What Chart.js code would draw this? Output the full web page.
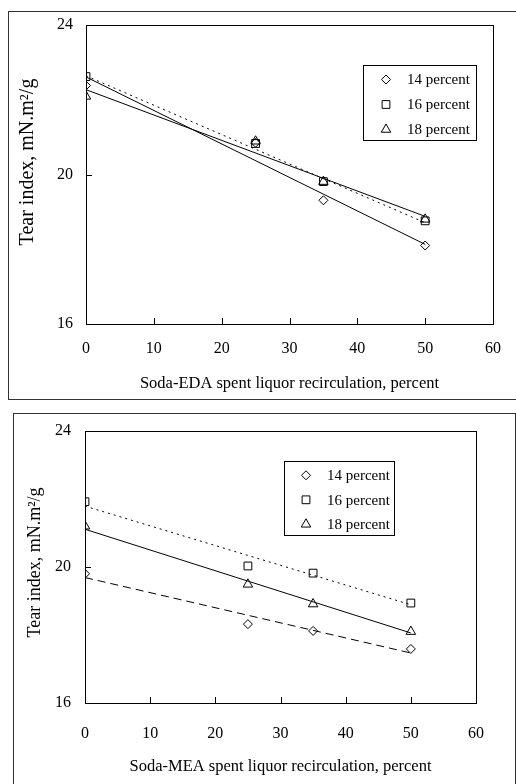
<!DOCTYPE html>
<html>
<head>
<meta charset="utf-8">
<script src="https://cdn.jsdelivr.net/npm/chart.js@4.4.0/dist/chart.umd.min.js"></script>
<style>
  html, body { margin: 0; padding: 0; background: #fff; overflow: hidden; }
  .frame { position: absolute; box-sizing: border-box; border: 1px solid #333; }
  canvas { position: absolute; left: 0; }
</style>
</head>
<body>
<div class="frame" style="left:8px;top:11px;width:530px;height:389px"></div>
<div class="frame" style="left:13px;top:413px;width:503px;height:420px"></div>
<canvas id="edaChart" width="516" height="400" style="top:0"></canvas>
<canvas id="meaChart" width="516" height="384" style="top:400px"></canvas>
<script>
// recirculation levels (x), tear index values
const recirc = [0, 25, 35, 50];
const fitX = [0, 50];

// Soda-EDA
const edaTear14 = [22.38, 20.85, 19.31, 18.10];
const edaTear16 = [22.62, 20.83, 19.81, 18.76];
const edaTear18 = [22.09, 20.89, 19.81, 18.80];
const edaFit14 = [22.61, 18.13];
const edaFit16 = [22.64, 18.71];
const edaFit18 = [22.27, 18.88];

// Soda-MEA
const meaTear14 = [19.80, 18.32, 18.12, 17.59];
const meaTear16 = [21.92, 20.03, 19.82, 18.94];
const meaTear18 = [21.20, 19.49, 18.91, 18.10];
const meaFit14 = [19.69, 17.47];
const meaFit16 = [21.79, 18.89];
const meaFit18 = [21.11, 18.06];

const seriesLabels = ["14 percent", "16 percent", "18 percent"];
const xTicks = [0, 10, 20, 30, 40, 50, 60];
const yTicks = [16, 20, 24];

const serif = "'Liberation Serif', 'Times New Roman', serif";

const pts = (xs, ys) => xs.map((x, i) => ({ x: x, y: ys[i] }));

const markers = [
  { pointStyle: "rectRot", radius: 4.5 },
  { pointStyle: "rect", radius: 5.5 },
  { pointStyle: "triangle", radius: 5.5 }
];

function pointSet(i, ys) {
  return {
    label: seriesLabels[i],
    data: pts(recirc, ys),
    showLine: false,
    pointStyle: markers[i].pointStyle,
    pointRadius: markers[i].radius,
    pointBorderColor: "#000",
    pointBackgroundColor: "rgba(255,255,255,0)",
    pointBorderWidth: 1,
    inLegend: true
  };
}

function fitSet(ys, dash) {
  return {
    label: "",
    data: pts(fitX, ys),
    showLine: true,
    borderColor: "#000",
    borderWidth: 1,
    borderDash: dash,
    pointRadius: 0,
    fill: false
  };
}

// box round the plot area plus the small inward tick marks
const plotFrame = {
  id: "plotFrame",
  afterDraw(chart) {
    const { ctx, chartArea: a, scales } = chart;
    ctx.save();
    ctx.strokeStyle = "#000";
    ctx.lineWidth = 1;
    ctx.strokeRect(Math.round(a.left) + 0.5, Math.round(a.top) + 0.5,
      Math.round(a.right - a.left), Math.round(a.bottom - a.top));
    ctx.beginPath();
    scales.x.ticks.forEach(t => {
      const px = Math.round(scales.x.getPixelForValue(t.value)) + 0.5;
      ctx.moveTo(px, a.bottom);
      ctx.lineTo(px, a.bottom - 6);
    });
    scales.y.ticks.forEach(t => {
      const py = Math.round(scales.y.getPixelForValue(t.value)) + 0.5;
      ctx.moveTo(a.left, py);
      ctx.lineTo(a.left + 6, py);
    });
    ctx.stroke();
    ctx.restore();
  }
};

// framed legend inside the plot
const boxLegend = {
  id: "boxLegend",
  afterDraw(chart, args, o) {
    const ctx = chart.ctx;
    ctx.save();
    ctx.fillStyle = "#fff";
    ctx.fillRect(o.x, o.y, o.w, o.h);
    ctx.strokeStyle = "#000";
    ctx.lineWidth = 1;
    ctx.strokeRect(o.x + 0.5, o.y + 0.5, o.w, o.h);
    ctx.font = "15px " + serif;
    ctx.textBaseline = "middle";
    ctx.textAlign = "left";
    let row = 0;
    chart.data.datasets.forEach(ds => {
      if (!ds.inLegend) return;
      const y = o.rowY + row * o.rowGap;
      ctx.fillStyle = "rgba(255,255,255,0)";
      Chart.helpers.drawPoint(ctx, {
        pointStyle: ds.pointStyle, radius: ds.pointRadius, rotation: 0, borderWidth: 1
      }, o.markX, y);
      ctx.fillStyle = "#000";
      ctx.fillText(ds.label, o.textX, y + 1);
      row++;
    });
    ctx.restore();
  }
};

function makeChart(id, sets, xTitle, lay) {
  return new Chart(document.getElementById(id), {
    type: "scatter",
    data: { datasets: sets },
    options: {
      responsive: false,
      animation: false,
      events: [],
      layout: { padding: { left: 0, top: lay.top, right: lay.right, bottom: 0 } },
      plugins: {
        legend: { display: false },
        tooltip: { enabled: false },
        boxLegend: lay.legend
      },
      scales: {
        x: {
          type: "linear",
          min: 0, max: 60,
          afterBuildTicks: s => { s.ticks = xTicks.map(v => ({ value: v })); },
          afterFit: s => { s.height = lay.xHeight; },
          grid: { display: false, drawTicks: false },
          border: { display: false },
          ticks: { color: "#000", font: { family: serif, size: 16 }, padding: lay.xPad },
          title: {
            display: true, text: xTitle, color: "#000",
            font: { family: serif, size: 16.5 },
            padding: { top: 0, bottom: lay.xTitlePad }
          }
        },
        y: {
          type: "linear",
          min: 16, max: 24,
          afterBuildTicks: s => { s.ticks = yTicks.map(v => ({ value: v })); },
          afterFit: s => { s.width = lay.yWidth; },
          grid: { display: false, drawTicks: false },
          border: { display: false },
          ticks: { color: "#000", font: { family: serif, size: 16 }, padding: lay.yPad },
          title: {
            display: true, text: lay.yTitle, color: "#000",
            font: { family: serif, size: lay.yTitleSize },
            padding: { top: lay.yTitlePad, bottom: 0 }
          }
        }
      }
    },
    plugins: [plotFrame, boxLegend]
  });
}

makeChart("edaChart", [
  fitSet(edaFit14, []),
  fitSet(edaFit16, [2, 4]),
  fitSet(edaFit18, []),
  pointSet(0, edaTear14),
  pointSet(1, edaTear16),
  pointSet(2, edaTear18)
], "Soda-EDA spent liquor recirculation, percent", {
  top: 25, right: 17, xHeight: 76, yWidth: 86,
  xPad: 15, yPad: 13, xTitlePad: 6, yTitlePad: 16, yTitleSize: 20,
  yTitle: "     Tear index, mN.m\u00B2/g",
  legend: { x: 363, y: 65, w: 113, h: 75, markX: 386, textX: 407, rowY: 79.5, rowGap: 25 }
});

makeChart("meaChart", [
  fitSet(meaFit14, [8, 5]),
  fitSet(meaFit16, [2, 4]),
  fitSet(meaFit18, []),
  pointSet(0, meaTear14),
  pointSet(1, meaTear16),
  pointSet(2, meaTear18)
], "Soda-MEA spent liquor recirculation, percent", {
  top: 31, right: 40, xHeight: 81, yWidth: 85,
  xPad: 21, yPad: 14, xTitlePad: 7, yTitlePad: 24, yTitleSize: 18,
  yTitle: "  Tear index, mN.m\u00B2/g",
  legend: { x: 284, y: 61, w: 110, h: 74, markX: 306, textX: 327, rowY: 75.3, rowGap: 24.5 }
});
</script>
</body>
</html>
